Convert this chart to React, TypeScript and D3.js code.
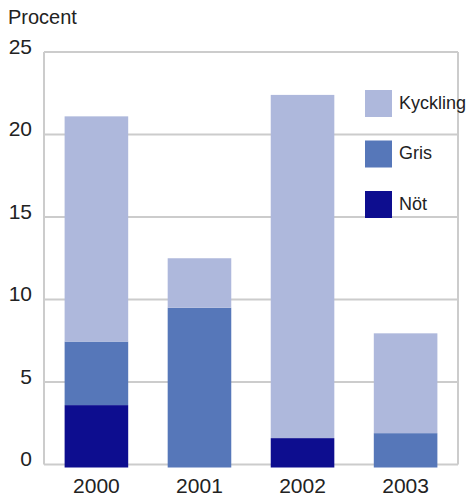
import React from "react";
import * as d3 from "d3";

// Share of samples (percent) per meat type and year
const years = ["2000", "2001", "2002", "2003"];
const not = [3.6, 0, 1.6, 0];
const gris = [3.85, 9.5, 0, 1.9];
const kyckling = [13.65, 3.0, 20.8, 6.05];
const yTicks = [0, 5, 10, 15, 20, 25];

const seriesNames = ["Nöt", "Gris", "Kyckling"];
const seriesColors = ["#0d0d8f", "#5677b9", "#aeb8dc"];

const W = 469;
const H = 497;
const left = 44;
const right = 458;
const top = 52;
const bottom = 464.5;
const font = "'Liberation Sans', Arial, sans-serif";

export default function App() {
  const x = d3.scaleBand<string>().domain(years).range([left, right]).paddingInner(0.383).paddingOuter(0.2);
  const y = d3.scaleLinear().domain([0, 25]).range([bottom, top]);

  const rows = years.map((yr, i) => ({ year: yr, "Nöt": not[i], Gris: gris[i], Kyckling: kyckling[i] }));
  const stacked = d3.stack<any>().keys(seriesNames)(rows);

  const legendOrder = [2, 1, 0];

  return (
    <svg width={W} height={H} style={{ position: "absolute", left: 0, top: 0, background: "#fff" }} fontFamily={font}>
      <text x={8} y={24} fontSize={20} fill="#222">Procent</text>
      {/* grid lines */}
      {yTicks.map((t) => (
        <g key={t}>
          <line x1={left} x2={right} y1={y(t)} y2={y(t)} stroke="#cccccc" strokeWidth={2} />
          <text x={32} y={y(t) - 4} fontSize={21} textAnchor="end" dominantBaseline="middle" fill="#222">{t}</text>
        </g>
      ))}
      <line x1={left} x2={left} y1={top} y2={bottom} stroke="#cccccc" strokeWidth={2} />
      <line x1={right} x2={right} y1={top} y2={bottom} stroke="#cccccc" strokeWidth={2} />
      {/* stacked bars */}
      {stacked.map((s, si) =>
        s.map((d, i) => {
          if (d[1] - d[0] <= 0) return null;
          const y0 = d[0] === 0 ? y(0) + 3 : y(d[0]);
          return (
            <rect
              key={`${si}-${i}`}
              x={x(years[i])}
              width={x.bandwidth()}
              y={y(d[1])}
              height={y0 - y(d[1])}
              fill={seriesColors[si]}
            />
          );
        })
      )}
      {years.map((yr) => (
        <text key={yr} x={(x(yr) as number) + x.bandwidth() / 2} y={493} fontSize={21} textAnchor="middle" fill="#222">{yr}</text>
      ))}
      {/* legend */}
      {legendOrder.map((si, k) => (
        <g key={si} transform={`translate(365, ${90 + k * 50.5})`}>
          <rect width={27} height={27} fill={seriesColors[si]} />
          <text x={34} y={14} fontSize={18} dominantBaseline="middle" fill="#222">{seriesNames[si]}</text>
        </g>
      ))}
    </svg>
  );
}
